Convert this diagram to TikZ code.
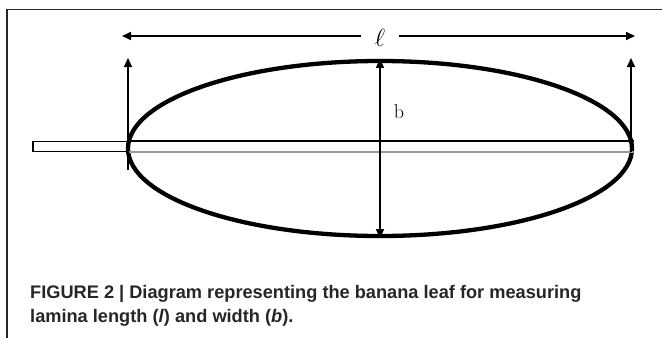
\documentclass[tikz,border=0pt]{standalone}
\usepackage{fontspec}
\setsansfont{Liberation Sans}
\usetikzlibrary{arrows.meta,shapes.geometric}
\definecolor{capgrey}{HTML}{262626}
\begin{document}
\begin{tikzpicture}[x=1pt,y=-1pt,every node/.style={inner sep=0pt},
  dimline/.style={line width=1.6pt,-{Triangle[length=9pt,width=8pt]}},
  rib/.style={line width=1.6pt},
  caption/.style={anchor=base west,text=capgrey,font=\sffamily\bfseries\fontsize{18.2}{18.2}\selectfont}]
\useasboundingbox (0,0) rectangle (662,338);
% frame
\draw[line width=1.2pt,black!85] (7,338) -- (7,9.5) -- (662,9.5);
% leaf: lamina and petiole
\node[draw,ellipse,line width=4.3pt,minimum width=504pt,minimum height=175pt] (lamina) at (380,148.5) {};
\node[draw,line width=1.1pt,minimum width=95pt,minimum height=10pt] (petiole) at (80.5,146.5) {};
\draw[rib] (petiole.north east) -- (lamina.east |- petiole.north);
\draw[rib,line width=1.3pt,black!40] (petiole.south east) -- (lamina.east |- petiole.south);
% length
\node[inner xsep=14pt,font=\fontsize{24}{24}\selectfont] (len) at (380,38) {$\ell$};
\coordinate (lenl) at (122,36);
\coordinate (lenr) at (635,36);
\draw[dimline] (len.west |- lenl) -- (lenl);
\draw[dimline] (len.east |- lenr) -- (lenr);
\coordinate (lbase) at (128,170);
\coordinate (ltip) at (128,58);
\coordinate (rbase) at (631,152);
\coordinate (rtip) at (631,58);
\draw[dimline] (lbase) -- (ltip);
\draw[dimline] (rbase) -- (rtip);
% width
\draw[dimline,{Triangle[length=9pt,width=8pt]}-{Triangle[length=9pt,width=8pt]}] (lamina.south) -- (lamina.north);
\node[font=\fontsize{20}{20}\selectfont] (wid) at (399,112) {b};
% caption
\node[caption] (cap1) at (30,298) {FIGURE 2 | Diagram representing the banana leaf for measuring};
\node[caption] (cap2) at (30,322) {lamina length (\textit{l}) and width (\textit{b}).};
\end{tikzpicture}
\end{document}
